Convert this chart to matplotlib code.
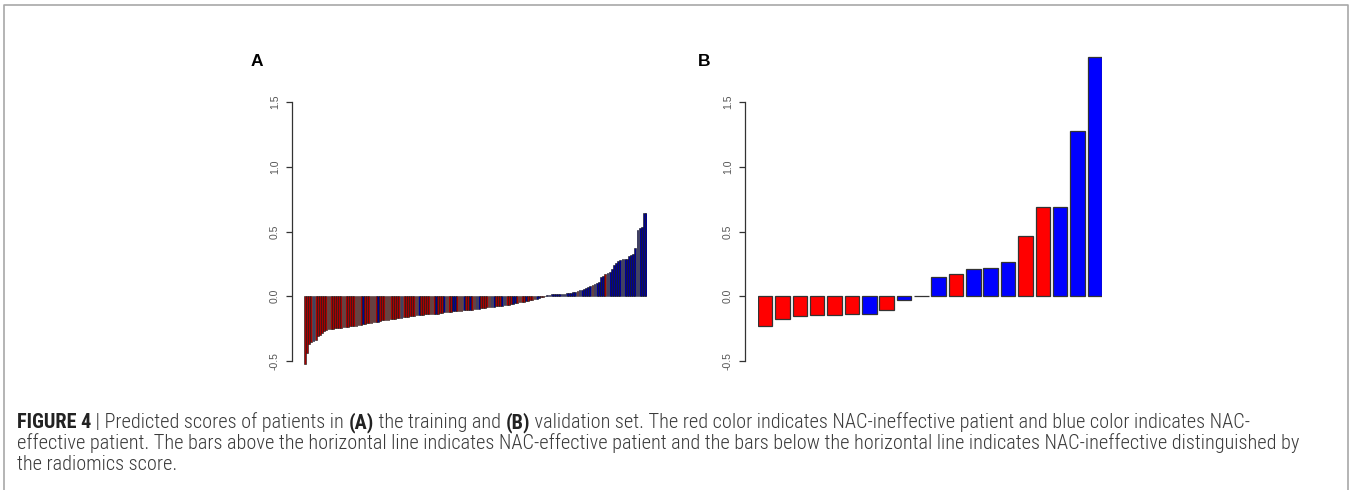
import matplotlib
matplotlib.use("Agg")
import matplotlib.pyplot as plt
from matplotlib.lines import Line2D
from matplotlib import font_manager

# training set (A): predicted radiomics scores, sorted
a_scores = [
    -0.52, -0.44, -0.37, -0.355, -0.345, -0.335, -0.31, -0.30, -0.285, -0.27,
    -0.263, -0.255, -0.253, -0.25, -0.245, -0.243, -0.242, -0.242, -0.24, -0.24,
    -0.235, -0.233, -0.232, -0.23, -0.228, -0.225, -0.22, -0.215, -0.212, -0.21,
    -0.208, -0.205, -0.2, -0.198, -0.195, -0.19, -0.187, -0.185, -0.183, -0.18,
    -0.176, -0.175, -0.172, -0.17, -0.168, -0.165, -0.162, -0.16, -0.158, -0.156,
    -0.155, -0.15, -0.148, -0.146, -0.144, -0.142, -0.14, -0.139, -0.138, -0.137,
    -0.136, -0.135, -0.134, -0.13, -0.128, -0.125, -0.122, -0.12, -0.118, -0.116,
    -0.115, -0.113, -0.112, -0.11, -0.108, -0.106, -0.105, -0.104, -0.103, -0.1,
    -0.098, -0.095, -0.092, -0.09, -0.088, -0.085, -0.083, -0.082, -0.08, -0.078,
    -0.076, -0.074, -0.072, -0.071, -0.07, -0.066, -0.062, -0.058, -0.055, -0.052,
    -0.048, -0.045, -0.042, -0.04, -0.035, -0.03, -0.026, -0.022, -0.018, -0.013,
    -0.008, -0.003, 0.005, 0.01, 0.013, 0.015, 0.016, 0.017, 0.018, 0.019,
    0.02, 0.021, 0.022, 0.025, 0.028, 0.031, 0.035, 0.04, 0.046, 0.052,
    0.058, 0.065, 0.07, 0.078, 0.085, 0.092, 0.1, 0.11, 0.15, 0.16,
    0.17, 0.18, 0.19, 0.21, 0.24, 0.26, 0.27, 0.28, 0.285, 0.29,
    0.29, 0.31, 0.32, 0.33, 0.376, 0.51, 0.53, 0.536, 0.64, 0.645,
]
# r = NAC-ineffective, b = NAC-effective
a_labels = list(
    "rrrrbrrrrr" "rrrrrrrrrr" "rrrrrrrbrr" "rrrrbrrrrr" "rrrrrbrrrr"
    "rrrbrrrrrr" "rbrrrbrrrb" "brrrbrrbrr" "bbrrrrrbbr" "rrbbrrrbbr"
    "rrrbrrrrbb" "rrbbbbbbbb" "bbbbbbbrbb" "bbbbrbbbbb" "rbbbbbbbbb"
    "bbbbbbbbbb"
)

# validation set (B)
b_scores = [-0.228, -0.172, -0.156, -0.145, -0.145, -0.139, -0.139, -0.108, -0.031, 0.004,
            0.151, 0.169, 0.213, 0.218, 0.264, 0.464, 0.687, 0.687, 1.274, 1.851]
b_labels = list("rrrrrrbrbbbrbbbrrbbb")

yticks = [-0.5, 0.0, 0.5, 1.0, 1.5]
ytick_labels = ["-0.5", "0.0", "0.5", "1.0", "1.5"]

caption_lines = [
    [("FIGURE 4", "bold"), (" | Predicted scores of patients in ", "light"), ("(A)", "bold"),
     (" the training and ", "light"), ("(B)", "bold"),
     (" validation set. The red color indicates NAC-ineffective patient and blue color indicates NAC-", "light")],
    [("effective patient. The bars above the horizontal line indicates NAC-effective patient and the bars "
      "below the horizontal line indicates NAC-ineffective distinguished by", "light")],
    [("the radiomics score.", "light")],
]

W, H = 1352, 490
fig = plt.figure(figsize=(W / 100, H / 100), dpi=100)
plt.rcParams['font.family'] = ['Liberation Sans', 'DejaVu Sans']

# prefer a narrow face for the caption if one is installed
installed = {f.name for f in font_manager.fontManager.ttflist}
cap_font = [f for f in ['Liberation Sans Narrow', 'Roboto Condensed', 'Open Sans Condensed']
            if f in installed] + ['Liberation Sans', 'DejaVu Sans']
narrow = cap_font[0] != 'Liberation Sans'
cap_size = 14.6 if narrow else 12.6


def px_axes(x0, y0, x1, y1):
    return fig.add_axes([x0 / W, 1 - y1 / H, (x1 - x0) / W, (y1 - y0) / H])


def r_barplot(ax, scores, labels, cmap, edge, lw, offset_px):
    n = len(scores)
    xs = [0.2 + 1.2 * i for i in range(n)]
    cols = [cmap[l] for l in labels]
    ax.bar(xs, scores, width=1.0, align='edge', color=cols, edgecolor=edge, linewidth=lw)
    ax.set_xlim(0.2, 1.2 * n)
    ax.set_ylim(-0.55, 1.9)
    for s in ['top', 'right', 'bottom']:
        ax.spines[s].set_visible(False)
    ax.spines['left'].set_position(('outward', offset_px * 72 / 100))
    ax.spines['left'].set_bounds(-0.5, 1.5)
    ax.spines['left'].set_color('#333333')
    ax.spines['left'].set_linewidth(0.9)
    ax.set_xticks([])
    ax.set_yticks(yticks)
    ax.set_yticklabels(ytick_labels, rotation=90, va='center')
    ax.tick_params(axis='y', length=4.3, width=0.9, color='#333333', labelsize=7.5,
                   labelcolor='#555555', pad=4.5)
    ax.patch.set_visible(False)


axA = px_axes(304, 50.2, 647, 367.5)
r_barplot(axA, a_scores, a_labels, {'r': '#a80000', 'b': '#000096'}, '#111111', 0.4, 12)
axB = px_axes(758, 50.2, 1102, 367.5)
r_barplot(axB, b_scores, b_labels, {'r': '#ff0000', 'b': '#0000ff'}, '#333333', 0.9, 13)

fig.text(257 / W, 1 - 61 / H, "A", fontsize=12.5, fontweight='bold', ha='center', va='center')
fig.text(704 / W, 1 - 61 / H, "B", fontsize=12.5, fontweight='bold', ha='center', va='center')

# outer frame (open at the bottom)
fig.add_artist(Line2D([4 / W, 4 / W, 1348 / W, 1348 / W], [0, 1 - 5 / H, 1 - 5 / H, 0],
                      transform=fig.transFigure, color='#a8a8a8', lw=1.2))

# caption, drawn run by run so bold pieces sit inline
renderer = fig.canvas.get_renderer()


def run_width(txt, weight):
    a = fig.text(0, 0, "|" + txt + "|", fontsize=cap_size, fontweight=weight, family=cap_font)
    b = fig.text(0, 0, "||", fontsize=cap_size, fontweight=weight, family=cap_font)
    w = a.get_window_extent(renderer).width - b.get_window_extent(renderer).width
    a.remove()
    b.remove()
    return w


for k, line in enumerate(caption_lines):
    x = 17.0
    y = 428 + 21 * k
    for txt, weight in line:
        fig.text(x / W, 1 - y / H, txt, fontsize=cap_size, fontweight=weight, family=cap_font,
                 color='#222222' if weight == 'bold' else '#3a3a3a', va='baseline', ha='left')
        x += run_width(txt, weight)

fig.savefig("out.png", dpi=100)
